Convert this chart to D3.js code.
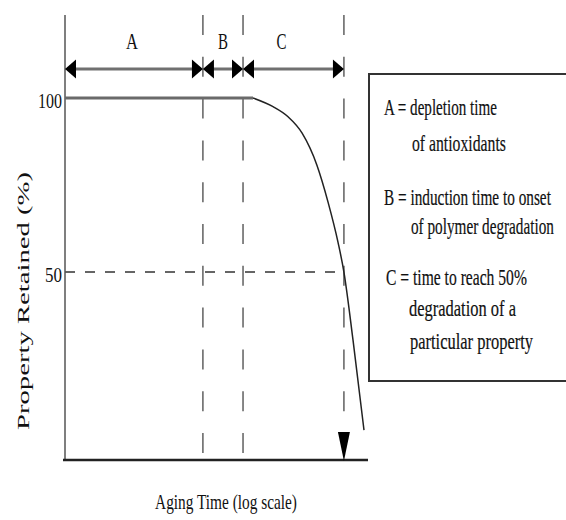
<!DOCTYPE html>
<html>
<head>
<meta charset="utf-8">
<script src="https://cdn.jsdelivr.net/npm/d3@7/dist/d3.min.js"></script>
<style>
  body { margin: 0; background: #fff; }
  text { font-family: "Liberation Serif", "Times New Roman", serif; fill: #111; }
</style>
</head>
<body>
<div id="chart"></div>
<script>
// Phases along the aging time axis (arbitrary time units, log scale)
const phaseNames = ['A', 'B', 'C'];
const phaseBounds = [1, 21.6, 52.8, 500];

// Property retained curve
const curveTime = [1, 66, 103, 144, 197, 274, 351, 438, 500, 612, 782];
const curveRetained = [100, 100, 97.5, 94.6, 89.9, 80.7, 70.1, 58.6, 50, 30.5, 4.6];

// Tick labels on the y axis
const yTicks = [50, 100];
const halfLevel = 50;

// Legend text
const legendLines = [
  'A = depletion time',
  'of antioxidants',
  'B = induction time to onset',
  'of polymer degradation',
  'C = time to reach 50%',
  'degradation of a',
  'particular property'
];

// layout (pixels)
const legendPos = [
  { x: 384, y: 115, w: 113 },
  { x: 412, y: 151, w: 94 },
  { x: 384, y: 205, w: 167 },
  { x: 411, y: 234, w: 143 },
  { x: 386, y: 285, w: 141 },
  { x: 409, y: 316, w: 107 },
  { x: 410, y: 349, w: 123 }
];
const phaseLabelDx = [-2, 0, -12];
const phaseLabelW = [12, 10, 10];
const tickW = { 50: 17, 100: 24 };

const width = 566, height = 520;
const axisTop = 15;
const arrowY = 69;

const svg = d3.select('#chart')
  .append('svg')
  .attr('width', width)
  .attr('height', height)
  .style('display', 'block');

// squeeze a text horizontally to a given width (the reference font is condensed)
function squeeze(sel, px, py, w) {
  sel.each(function (d, i) {
    const t = d3.select(this);
    const len = this.getComputedTextLength();
    const X = typeof px === 'function' ? px(d, i) : px;
    const Y = typeof py === 'function' ? py(d, i) : py;
    const W = typeof w === 'function' ? w(d, i) : w;
    t.attr('x', 0).attr('y', 0)
      .attr('transform', `translate(${X},${Y}) scale(${W / len},1)`);
  });
}

const x = d3.scaleLog().domain([1, 855]).range([65, 368]);
const y = d3.scaleLinear().domain([-4, 100]).range([460, 98]);

const x0 = x.range()[0], x1 = x.range()[1];
const yBase = y.range()[0];

// vertical dashed lines at phase boundaries
svg.selectAll('line.vdash')
  .data(phaseBounds.slice(1))
  .enter()
  .append('line')
  .attr('class', 'vdash')
  .attr('x1', d => x(d)).attr('x2', d => x(d))
  .attr('y1', axisTop).attr('y2', yBase)
  .attr('stroke', '#555')
  .attr('stroke-width', 1.4)
  .attr('stroke-dasharray', '20,21.8');

// horizontal dashed line at 50%
svg.append('line')
  .attr('x1', x0).attr('x2', x(phaseBounds[3]))
  .attr('y1', y(halfLevel)).attr('y2', y(halfLevel))
  .attr('stroke', '#333')
  .attr('stroke-width', 1.5)
  .attr('stroke-dasharray', '10,10');

// y axis line
svg.append('line')
  .attr('x1', x0).attr('x2', x0)
  .attr('y1', axisTop).attr('y2', yBase)
  .attr('stroke', '#555')
  .attr('stroke-width', 1.5);

// x axis line
svg.append('line')
  .attr('x1', x0 - 2).attr('x2', x1)
  .attr('y1', yBase).attr('y2', yBase)
  .attr('stroke', '#222')
  .attr('stroke-width', 2.5);

// y tick labels (each tick group is already moved to y(d))
const yAxis = svg.append('g')
  .attr('transform', `translate(${x0},0)`)
  .call(d3.axisLeft(y).tickValues(yTicks).tickSize(0).tickPadding(3).tickFormat(d3.format('d')));
yAxis.select('.domain').remove();
yAxis.selectAll('text')
  .attr('font-family', '"Liberation Serif", serif')
  .attr('font-size', 22)
  .attr('fill', '#1a1a1a')
  .attr('dy', null)
  .call(squeeze, -3, 9, d => tickW[d]);

// curve
const pts = curveTime.map((t, i) => [x(t), y(curveRetained[i])]);
const line = d3.line().curve(d3.curveMonotoneX);

svg.append('path')
  .attr('d', line(pts.slice(1)))
  .attr('fill', 'none')
  .attr('stroke', '#222')
  .attr('stroke-width', 1.5);

svg.append('path')
  .attr('d', line(pts.slice(0, 2)))
  .attr('fill', 'none')
  .attr('stroke', '#6a6a6a')
  .attr('stroke-width', 3);

// phase dimension arrows
const headL = 11, headH = 9.5;
const phases = phaseNames.map((n, i) => ({ name: n, a: x(phaseBounds[i]), b: x(phaseBounds[i + 1]), i }));

svg.selectAll('line.dim')
  .data(phases)
  .enter()
  .append('line')
  .attr('class', 'dim')
  .attr('x1', d => d.a + 2).attr('x2', d => d.b - 2)
  .attr('y1', arrowY).attr('y2', arrowY)
  .attr('stroke', '#707070')
  .attr('stroke-width', 3);

svg.selectAll('path.headL')
  .data(phases)
  .enter()
  .append('path')
  .attr('d', d => `M${d.a},${arrowY}L${d.a + headL},${arrowY - headH}L${d.a + headL},${arrowY + headH}Z`)
  .attr('fill', '#000');

svg.selectAll('path.headR')
  .data(phases)
  .enter()
  .append('path')
  .attr('d', d => `M${d.b},${arrowY}L${d.b - headL},${arrowY - headH}L${d.b - headL},${arrowY + headH}Z`)
  .attr('fill', '#000');

svg.selectAll('text.phase')
  .data(phases)
  .enter()
  .append('text')
  .attr('class', 'phase')
  .text(d => d.name)
  .attr('text-anchor', 'middle')
  .attr('font-size', 24)
  .call(squeeze, d => (d.a + d.b) / 2 + phaseLabelDx[d.i], 49, d => phaseLabelW[d.i]);

// downward arrow marking the 50% time
const xc = x(phaseBounds[3]);
svg.append('path')
  .attr('d', `M${xc - 6},${yBase - 28}L${xc + 6},${yBase - 28}L${xc},${yBase + 1}Z`)
  .attr('fill', '#000');

// legend box (open on the right edge)
svg.append('rect')
  .attr('x', 369).attr('y', 74)
  .attr('width', 210).attr('height', 307)
  .attr('fill', 'none')
  .attr('stroke', '#333')
  .attr('stroke-width', 2);

svg.selectAll('text.legend')
  .data(legendLines)
  .enter()
  .append('text')
  .attr('class', 'legend')
  .text(d => d)
  .attr('font-size', 23)
  .attr('stroke', '#111')
  .attr('stroke-width', 0.2)
  .call(squeeze, (d, i) => legendPos[i].x, (d, i) => legendPos[i].y, (d, i) => legendPos[i].w);

// axis titles
svg.append('text')
  .text('Aging Time (log scale)')
  .attr('text-anchor', 'middle')
  .attr('font-size', 20)
  .call(squeeze, 226, 509, 142);

svg.append('text')
  .text('Property Retained (%)')
  .attr('text-anchor', 'middle')
  .attr('font-size', 17)
  .each(function () {
    const len = this.getComputedTextLength();
    d3.select(this).attr('transform', `translate(29,301) rotate(-90) scale(${258 / len},1)`);
  });
</script>
</body>
</html>
